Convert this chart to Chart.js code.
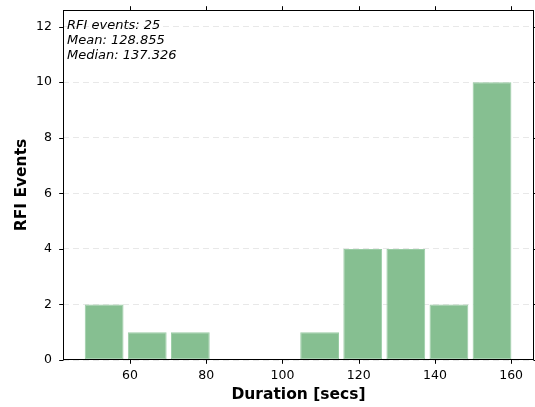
<!DOCTYPE html>
<html>
<head>
<meta charset="utf-8">
<script src="https://cdn.jsdelivr.net/npm/chart.js@4/dist/chart.umd.min.js"></script>
<style>
  html, body { margin: 0; padding: 0; background: #fff; }
  #wrap { width: 535px; height: 407px; }
</style>
</head>
<body>
<div id="wrap"><canvas id="c" width="535" height="407"></canvas></div>
<script>
// Histogram of RFI event durations
const binEdges = [47.54, 58.85, 70.16, 81.47, 92.78, 104.09, 115.40, 126.71, 138.02, 149.33, 160.64];
const eventCounts = [2, 1, 1, 0, 0, 1, 4, 4, 2, 10];
const xTickValues = [60, 80, 100, 120, 140, 160];
const yTickValues = [0, 2, 4, 6, 8, 10, 12];
const xRange = [42.4, 166.0];
const yRange = [0, 12.6];
const statsLines = ['RFI events: 25', 'Mean: 128.855', 'Median: 137.326'];

const FONT = "'DejaVu Sans', 'Liberation Sans', sans-serif";
const TICK_LEN = 4.3;

const barPoints = eventCounts.map((c, i) => ({
  x: (binEdges[i] + binEdges[i + 1]) / 2,
  y: c
}));

// frame, tick marks on all four sides, and the statistics text
const framePlugin = {
  id: 'frameAndTicks',
  afterDraw(chart) {
    const { ctx, chartArea: a, scales } = chart;
    ctx.save();
    ctx.strokeStyle = '#000';
    ctx.lineWidth = 1;
    ctx.setLineDash([]);
    const L = Math.round(a.left) + 0.5, R = Math.round(a.right) - 0.5;
    const T = Math.round(a.top) + 0.5, B = Math.round(a.bottom) - 0.5;
    ctx.strokeRect(L, T, R - L, B - T);

    ctx.beginPath();
    xTickValues.forEach(v => {
      const px = Math.round(scales.x.getPixelForValue(v)) + 0.5;
      ctx.moveTo(px, B); ctx.lineTo(px, B + TICK_LEN);
      ctx.moveTo(px, T); ctx.lineTo(px, T - TICK_LEN);
    });
    yTickValues.forEach(v => {
      const py = Math.round(scales.y.getPixelForValue(v)) + 0.5;
      ctx.moveTo(L, py); ctx.lineTo(L - TICK_LEN, py);
      ctx.moveTo(R, py); ctx.lineTo(R + TICK_LEN, py);
    });
    ctx.stroke();

    ctx.fillStyle = '#000';
    ctx.font = 'italic 13px ' + FONT;
    ctx.textAlign = 'left';
    ctx.textBaseline = 'alphabetic';
    statsLines.forEach((s, i) => {
      ctx.fillText(s, a.left + 4, a.top + 18.5 + i * 15);
    });
    ctx.restore();
  }
};

new Chart(document.getElementById('c'), {
  type: 'bar',
  data: {
    datasets: [{
      data: barPoints,
      backgroundColor: '#86bf91',
      borderColor: ctx => (ctx.raw && ctx.raw.y > 0 ? '#9acca5' : 'rgba(0,0,0,0)'),
      borderWidth: ctx => (ctx.raw && ctx.raw.y > 0 ? 1 : 0),
      borderSkipped: false,
      barPercentage: 0.9,
      categoryPercentage: 1.0
    }]
  },
  options: {
    responsive: false,
    animation: false,
    devicePixelRatio: 1,
    layout: { padding: { top: 10, right: 1, left: 0, bottom: 0 } },
    plugins: {
      legend: { display: false },
      tooltip: { enabled: false }
    },
    scales: {
      x: {
        type: 'linear',
        offset: false,
        min: xRange[0],
        max: xRange[1],
        afterBuildTicks: s => { s.ticks = xTickValues.map(v => ({ value: v })); },
        afterFit: s => { s.height = 47; s.paddingLeft = 0; s.paddingRight = 0; },
        grid: { display: false, drawTicks: false, offset: false },
        border: { display: false },
        ticks: {
          autoSkip: false,
          maxRotation: 0,
          padding: 8,
          color: '#000',
          font: { family: FONT, size: 12.5 }
        },
        title: {
          display: true,
          text: 'Duration [secs]',
          color: '#000',
          font: { family: FONT, size: 15.5, weight: 'bold' },
          padding: { top: 0, bottom: 3 }
        }
      },
      y: {
        type: 'linear',
        min: yRange[0],
        max: yRange[1],
        afterBuildTicks: s => { s.ticks = yTickValues.map(v => ({ value: v })); },
        afterFit: s => { s.width = 63; s.paddingTop = 0; s.paddingBottom = 0; },
        grid: {
          display: true,
          drawTicks: false,
          color: 'rgba(0,0,0,0.09)',
          lineWidth: 1
        },
        border: { display: false, dash: [6, 4] },
        ticks: {
          autoSkip: false,
          padding: 11,
          color: '#000',
          font: { family: FONT, size: 12.5 }
        },
        title: {
          display: true,
          text: 'RFI Events',
          color: '#000',
          font: { family: FONT, size: 15.5, weight: 'bold' },
          padding: { top: 12.5, bottom: 0 }
        }
      }
    }
  },
  plugins: [framePlugin]
});
</script>
</body>
</html>
